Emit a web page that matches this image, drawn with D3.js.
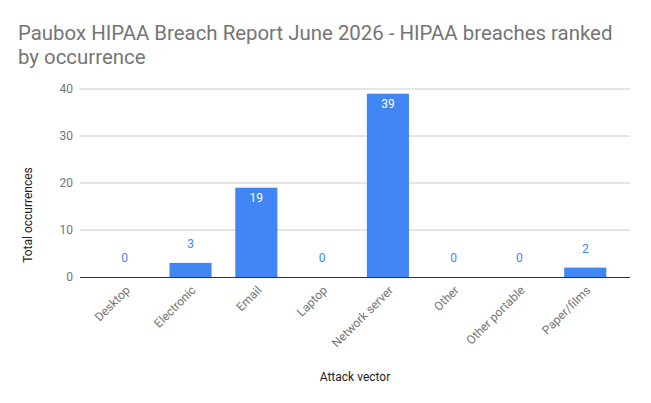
<!DOCTYPE html>
<html>
<head>
<meta charset="utf-8">
<script src="https://cdn.jsdelivr.net/npm/d3@7"></script>
<style>
  body { margin: 0; background: #fff; }
  text { font-family: Roboto, "Noto Sans", sans-serif; }
</style>
</head>
<body>
<div id="chart"></div>
<script>
// data
var categories = ["Desktop", "Electronic", "Email", "Laptop", "Network server", "Other", "Other portable", "Paper/films"];
var occurrences = [0, 3, 19, 0, 39, 0, 0, 2];
var yTicks = [0, 10, 20, 30, 40];

var width = 651, height = 403;
var margin = { top: 89, right: 21, bottom: 126, left: 80 };
var plotW = width - margin.left - margin.right;
var plotH = height - margin.top - margin.bottom;

var svg = d3.select("#chart").append("svg")
    .attr("width", width)
    .attr("height", height);

// title
var title = svg.append("text")
    .attr("x", 18)
    .attr("y", 40)
    .style("font-size", "20.4px")
    .style("fill", "#757575");
title.append("tspan").attr("x", 18).text("Paubox HIPAA Breach Report June 2026 - HIPAA breaches ranked");
title.append("tspan").attr("x", 18).attr("dy", 24).text("by occurrence");

var g = svg.append("g")
    .attr("transform", "translate(" + margin.left + "," + margin.top + ")");

var x = d3.scaleBand()
    .domain(categories)
    .range([0, plotW])
    .padding(0.36);

var y = d3.scaleLinear()
    .domain([0, 40])
    .range([plotH, 0]);

// gridlines + y labels
g.selectAll("line.grid")
    .data(yTicks.filter(function (d) { return d > 0; }))
    .enter()
    .append("line")
    .attr("class", "grid")
    .attr("x1", 0)
    .attr("x2", plotW)
    .attr("y1", function (d) { return y(d); })
    .attr("y2", function (d) { return y(d); })
    .style("stroke", "#cccccc")
    .style("stroke-width", 1);

g.selectAll("text.ytick")
    .data(yTicks)
    .enter()
    .append("text")
    .attr("class", "ytick")
    .attr("x", -7)
    .attr("y", function (d) { return y(d); })
    .attr("dy", "0.35em")
    .attr("text-anchor", "end")
    .style("font-size", "12px")
    .style("fill", "#757575")
    .text(function (d) { return d; });

// bars
g.selectAll(".bar")
    .data(occurrences)
    .enter()
    .append("rect")
    .attr("class", "bar")
    .attr("x", function (d, i) { return x(categories[i]); })
    .attr("width", x.bandwidth())
    .attr("y", function (d) { return y(d); })
    .attr("height", function (d) { return plotH - y(d); })
    .style("fill", "#4285f4");

// value labels: inside for tall bars, above otherwise
g.selectAll("text.bar-text")
    .data(occurrences)
    .enter()
    .append("text")
    .attr("class", "bar-text")
    .attr("x", function (d, i) { return x(categories[i]) + x.bandwidth() / 2; })
    .attr("y", function (d) { return d > 10 ? y(d) + 14 : y(d) - 15; })
    .attr("text-anchor", "middle")
    .style("font-size", "12px")
    .style("fill", function (d) { return d > 10 ? "#ffffff" : "#4285f4"; })
    .text(function (d) { return d; });

// baseline
g.append("line")
    .attr("x1", 0)
    .attr("x2", plotW)
    .attr("y1", y(0) + 0.5)
    .attr("y2", y(0) + 0.5)
    .style("stroke", "#333333")
    .style("stroke-width", 1);

// x labels, rotated
g.selectAll("text.xtick")
    .data(categories)
    .enter()
    .append("text")
    .attr("class", "xtick")
    .attr("transform", function (d) {
        return "translate(" + (x(d) + x.bandwidth() / 2 + 6) + "," + (plotH + 14) + ") rotate(-45)";
    })
    .attr("text-anchor", "end")
    .style("font-size", "12px")
    .style("fill", "#757575")
    .text(function (d) { return d; });

// axis titles
svg.append("text")
    .attr("transform", "translate(32,215) rotate(-90)")
    .attr("text-anchor", "middle")
    .style("font-size", "12px")
    .style("fill", "#222222")
    .text("Total occurrences");

svg.append("text")
    .attr("x", 355)
    .attr("y", 381)
    .attr("text-anchor", "middle")
    .style("font-size", "12px")
    .style("fill", "#222222")
    .text("Attack vector");
</script>
</body>
</html>
